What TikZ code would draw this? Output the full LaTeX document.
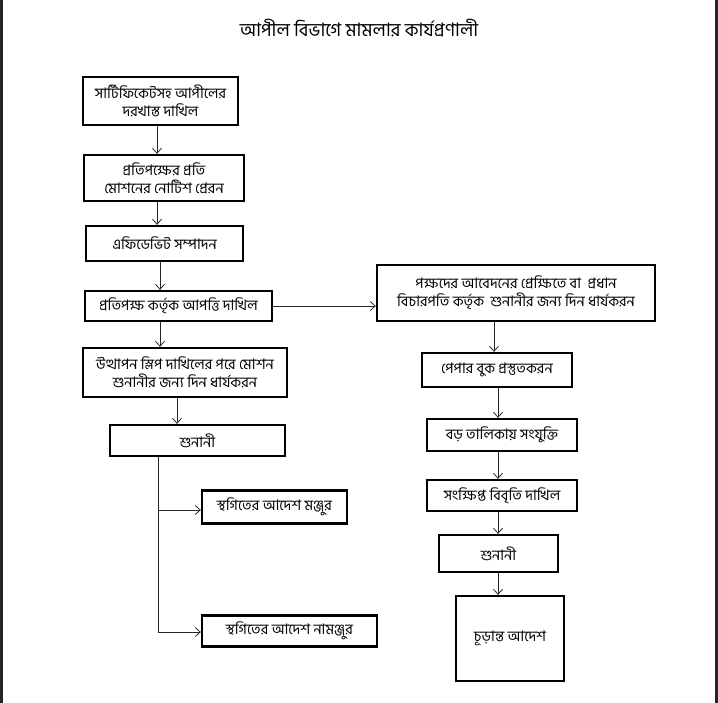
\documentclass[tikz,border=0pt]{standalone}
\usepackage{fontspec}
\newfontfamily\bn[Script=Bengali]{Hind Siliguri}
\usetikzlibrary{arrows.meta}
\begin{document}
\begin{tikzpicture}[x=1pt,y=-1pt,
  box/.style={draw=black,line width=2.3pt,fill=white,inner sep=0pt,align=center,font=\bn\fontsize{14.5}{18}\selectfont},
  conn/.style={line width=0.8pt,draw=black!85},
  arr/.style={conn,-{Straight Barb[length=5pt,width=9pt]}}]
\useasboundingbox (0,0) rectangle (718,703);
\fill[black!85] (0,0) rectangle (2.5,703);
\fill[black!85] (715,0) rectangle (718,703);
\node[font=\bn\fontsize{18.5}{20}\selectfont] (title) at (359,28) {আপীল বিভাগে মামলার কার্যপ্রণালী};
% left column
\node[box,minimum width=155,minimum height=48] (b1) at (160.5,101) {সার্টিফিকেটসহ আপীলের\\দরখাস্ত দাখিল};
\node[box,minimum width=160,minimum height=46] (b2) at (164,178) {প্রতিপক্ষের প্রতি\\মোশনের নোটিশ প্রেরন};
\node[box,minimum width=157,minimum height=35] (b3) at (164.5,243.5) {এফিডেভিট সম্পাদন};
\node[box,minimum width=187,minimum height=30] (b4) at (178.5,306) {প্রতিপক্ষ কর্তৃক আপত্তি দাখিল};
\node[box,minimum width=204,minimum height=49] (b5) at (185,372.5) {উত্থাপন স্লিপ দাখিলের পরে মোশন\\শুনানীর জন্য দিন ধার্যকরন};
\node[box,minimum width=175,minimum height=31] (b6) at (197.5,440.5) {শুনানী};
\node[box,minimum width=145,minimum height=33] (b7) at (274.5,507) {স্থগিতের আদেশ মঞ্জুর};
\node[box,minimum width=175,minimum height=31] (b8) at (289.5,631) {স্থগিতের আদেশ নামঞ্জুর};
% right column
\node[box,minimum width=278,minimum height=56] (r1) at (516,293) {পক্ষদের আবেদনের প্রেক্ষিতে বা~ প্রধান\\বিচারপতি কর্তৃক~ শুনানীর জন্য দিন ধার্যকরন};
\node[box,minimum width=150,minimum height=34] (r2) at (497,370) {পেপার বুক প্রস্তুতকরন};
\node[box,minimum width=150,minimum height=32] (r3) at (502,435) {বড় তালিকায় সংযুক্তি};
\node[box,minimum width=150,minimum height=31] (r4) at (502,495.5) {সংক্ষিপ্ত বিবৃতি দাখিল};
\node[box,minimum width=119,minimum height=37] (r5) at (498.5,553.5) {শুনানী};
\node[box,minimum width=108,minimum height=85] (r6) at (510,638.5) {চূড়ান্ত আদেশ};
% column coordinates
\coordinate (ca) at (157,0);
\coordinate (cb) at (160,0);
\coordinate (cc) at (177,0);
\coordinate (cd) at (158,0);
\coordinate (ra) at (494,0);
\coordinate (rb) at (498,0);
\coordinate (j7) at (158,510);
\coordinate (j8) at (158,632);
\draw[arr] (ca |- b1.south) -- (ca |- b2.north);
\draw[arr] (ca |- b2.south) -- (ca |- b3.north);
\draw[arr] (cb |- b3.south) -- (cb |- b4.north);
\draw[arr] (cb |- b4.south) -- (cb |- b5.north);
\draw[arr] (cc |- b5.south) -- (cc |- b6.north);
\draw[conn] (cd |- b6.south) -- (j8);
\draw[arr] (j7) -- (j7 -| b7.west);
\draw[arr] (j8) -- (j8 -| b8.west);
\draw[arr] (b4.east) -- (b4.east -| r1.west);
\draw[arr] (ra |- r1.south) -- (ra |- r2.north);
\draw[arr] (rb |- r2.south) -- (rb |- r3.north);
\draw[arr] (rb |- r3.south) -- (rb |- r4.north);
\draw[arr] (rb |- r4.south) -- (rb |- r5.north);
\draw[arr] (rb |- r5.south) -- (rb |- r6.north);
\end{tikzpicture}
\end{document}
